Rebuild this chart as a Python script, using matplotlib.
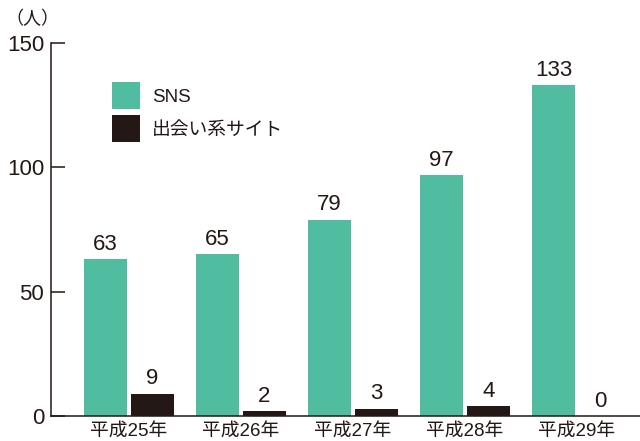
import matplotlib
matplotlib.use("Agg")
import matplotlib.pyplot as plt
from matplotlib.patches import Patch
import numpy as np

plt.rcParams['font.family'] = ['Liberation Sans', 'Noto Sans CJK JP', 'DejaVu Sans']

years = ['平成25年', '平成26年', '平成27年', '平成28年', '平成29年']
sns_counts = [63, 65, 79, 97, 133]
deai_counts = [9, 2, 3, 4, 0]
series_names = ['SNS', '出会い系サイト']

green = '#50BDA1'
dark = '#231815'

fig = plt.figure(figsize=(6.4, 4.41), dpi=100)
ax = fig.add_axes([51 / 640, 25 / 441, (640 - 51) / 640, (416 - 43) / 441])

x = np.arange(len(years))
w = 0.384
off = 0.21
ax.bar(x - off, sns_counts, w, color=green, zorder=2)
ax.bar(x + off, deai_counts, w, color=dark, zorder=2)

# value labels above bars
for xi, v in zip(x, sns_counts):
    ax.annotate(str(v), (xi - off, v), xytext=(0, 3), textcoords='offset points',
                ha='center', va='bottom', fontsize=16, color=dark)
for xi, v in zip(x, deai_counts):
    ax.annotate(str(v), (xi + off, v), xytext=(0, 3), textcoords='offset points',
                ha='center', va='bottom', fontsize=16, color=dark)

ax.set_xlim(-0.696, 4.5625)
ax.set_ylim(0, 150)
ax.set_yticks([0, 50, 100, 150])
ax.set_xticks(x)
ax.set_xticklabels(years)

for s in ['top', 'right']:
    ax.spines[s].set_visible(False)
for s in ['left', 'bottom']:
    ax.spines[s].set_color(dark)
    ax.spines[s].set_linewidth(1.1)

ax.tick_params(axis='y', direction='in', length=10, width=1.1, color=dark,
               labelsize=16, labelcolor=dark, pad=5)
ax.tick_params(axis='x', length=0, labelsize=13.5, labelcolor=dark, pad=5)

handles = [Patch(facecolor=green, edgecolor='none'),
           Patch(facecolor=dark, edgecolor='none')]
leg = fig.legend(handles, series_names, loc='upper left',
                 bbox_to_anchor=(112 / 640, 1 - 82 / 441), bbox_transform=fig.transFigure,
                 frameon=False, fontsize=13.5, handlelength=1.5, handleheight=1.85,
                 labelspacing=0.3, handletextpad=0.65, borderpad=0, borderaxespad=0)
for t in leg.get_texts():
    t.set_color(dark)

fig.text(5 / 640, 1 - 19 / 441, '（人）', fontsize=13, color=dark, va='center', ha='left')

fig.savefig('out.png', dpi=100)
